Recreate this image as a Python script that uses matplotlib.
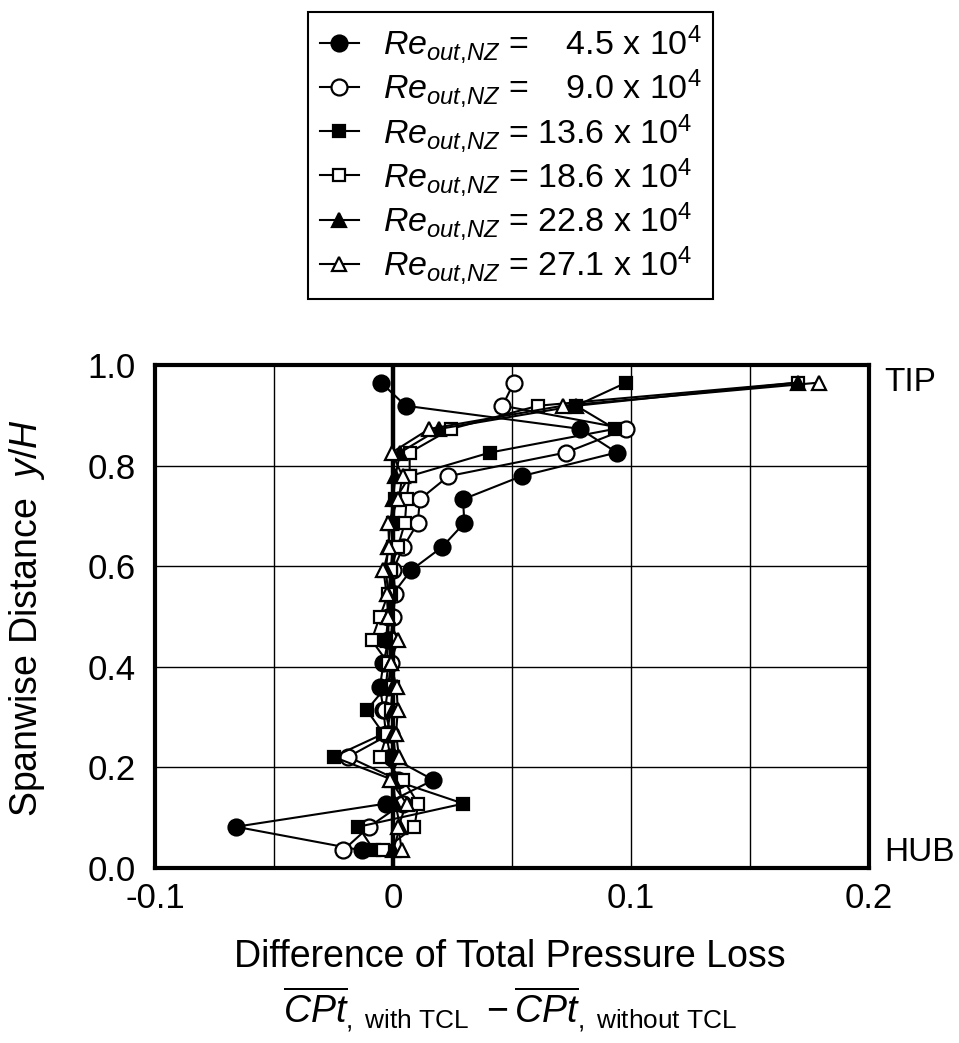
"""
Spanwise distribution of the total pressure loss difference (with TCL - without TCL)
for six nozzle outlet Reynolds numbers.
"""
import matplotlib
matplotlib.use("Agg")
import matplotlib.pyplot as plt
import numpy as np

plt.rcParams["font.family"] = ["Liberation Sans", "DejaVu Sans"]
plt.rcParams["mathtext.fontset"] = "custom"
plt.rcParams["mathtext.rm"] = "Liberation Sans"
plt.rcParams["mathtext.it"] = "Liberation Sans:italic"
plt.rcParams["mathtext.bf"] = "Liberation Sans:bold"

# measurement heights y/H (hub -> tip)
span = [0.035, 0.082, 0.128, 0.175, 0.221, 0.267, 0.314, 0.360, 0.407, 0.453, 0.500,
        0.545, 0.592, 0.638, 0.686, 0.733, 0.779, 0.826, 0.873, 0.919, 0.965]

# difference of total pressure loss per Reynolds number
dcpt_re45 = [-0.013, -0.066, -0.003, 0.017, -0.001, -0.003, -0.004, -0.0055, -0.004, -0.002, -0.002,
             0.000, 0.0076, 0.0206, 0.030, 0.0294, 0.054, 0.094, 0.0786, 0.0053, -0.005]
dcpt_re90 = [-0.021, -0.010, 0.004, 0.002, -0.0188, -0.001, -0.0034, -0.002, -0.001, -0.001, 0.000,
             0.001, 0.000, 0.0043, 0.0104, 0.0113, 0.0233, 0.0727, 0.098, 0.046, 0.0508]
dcpt_re136 = [-0.008, -0.0145, 0.0296, 0.000, -0.025, -0.004, -0.011, -0.003, -0.002, -0.003, -0.002,
              -0.001, -0.001, 0.000, 0.000, 0.001, 0.007, 0.0408, 0.0933, 0.077, 0.098]
dcpt_re186 = [-0.004, 0.009, 0.0106, 0.0044, -0.0055, -0.0025, -0.001, 0.000, -0.002, -0.009, -0.0055,
              -0.002, -0.001, 0.002, 0.005, 0.0057, 0.007, 0.007, 0.0244, 0.061, 0.170]
dcpt_re228 = [0.000, 0.003, 0.001, 0.000, 0.001, 0.000, 0.000, 0.000, -0.001, -0.002, -0.002,
              -0.002, -0.003, -0.002, -0.001, 0.000, 0.001, 0.003, 0.0195, 0.077, 0.170]
dcpt_re271 = [0.0037, 0.0022, 0.0057, -0.0013, 0.0025, 0.0013, 0.002, 0.0015, -0.001, 0.002, -0.002,
              -0.0027, -0.004, -0.0016, -0.002, 0.0023, 0.004, -0.0005, 0.0153, 0.0713, 0.179]

re_labels = ["\u2007 4.5", "\u2007 9.0", "13.6", "18.6", "22.8", "27.1"]

series = [dcpt_re45, dcpt_re90, dcpt_re136, dcpt_re186, dcpt_re228, dcpt_re271]
markers = ["o", "o", "s", "s", "^", "^"]
faces = ["black", "white", "black", "white", "black", "white"]
msizes = [11.5, 11.5, 8.5, 8.5, 10.5, 10.5]

fig = plt.figure(figsize=(9.59, 10.43), dpi=100)
ax = fig.add_axes([155 / 959, 1 - 868 / 1043, (869 - 155) / 959, (868 - 365) / 1043])

handles = []
for xs, mk, fc, ms, lab in zip(series, markers, faces, msizes, re_labels):
    h, = ax.plot(xs, span, color="black", lw=1.5, marker=mk, ms=ms,
                 markerfacecolor=fc, markeredgecolor="black", markeredgewidth=1.6,
                 label=r"$Re_{out{,}NZ}$ = " + lab + r" x 10$^4$", clip_on=False, zorder=3)
    handles.append(h)

ax.set_xlim(-0.1, 0.2)
ax.set_ylim(0.0, 1.0)
ax.set_xticks([-0.1, 0.0, 0.1, 0.2])
ax.set_xticklabels(["-0.1", "0", "0.1", "0.2"])
ax.set_xticks(np.arange(-0.1, 0.2001, 0.05), minor=True)
ax.set_yticks(np.arange(0.0, 1.001, 0.2))
ax.set_yticklabels(["0.0", "0.2", "0.4", "0.6", "0.8", "1.0"])
ax.grid(True, which="both", axis="x", color="black", lw=1.0)
ax.grid(True, which="major", axis="y", color="black", lw=1.0)
ax.set_axisbelow(True)
ax.axvline(0.0, color="black", lw=3.2, zorder=2)
ax.tick_params(which="both", length=0)
ax.tick_params(axis="y", labelsize=25, pad=14)
ax.tick_params(axis="x", labelsize=25, pad=10)
for sp in ax.spines.values():
    sp.set_linewidth(3.0)

ax.text(1.022, 0.965, "TIP", transform=ax.get_yaxis_transform(), fontsize=24,
        ha="left", va="center")
ax.text(1.022, 0.03, "HUB", transform=ax.get_yaxis_transform(), fontsize=24,
        ha="left", va="center")

fig.text(27 / 959, 1 - 618 / 1043, r"Spanwise Distance  $y/H$", rotation=90,
         ha="center", va="center", fontsize=27)
fig.text(510 / 959, 1 - 957 / 1043, "Difference of Total Pressure Loss",
         ha="center", va="center", fontsize=27)
fig.text(510 / 959, 1 - 1010 / 1043,
         r"$\overline{CPt}_{,\ \mathrm{with\ TCL}}\ -\overline{CPt}_{,\ \mathrm{without\ TCL}}$",
         ha="center", va="center", fontsize=27)

leg = fig.legend(handles=handles, loc="upper left", bbox_to_anchor=(308 / 959, 1 - 12 / 1043),
                 borderaxespad=0, fontsize=24.5, frameon=True, fancybox=False, framealpha=1.0,
                 edgecolor="black", handlelength=1.15, handletextpad=0.7,
                 labelspacing=0.05, borderpad=0.35)
leg.get_frame().set_linewidth(1.5)

fig.savefig("out.png", dpi=100)
